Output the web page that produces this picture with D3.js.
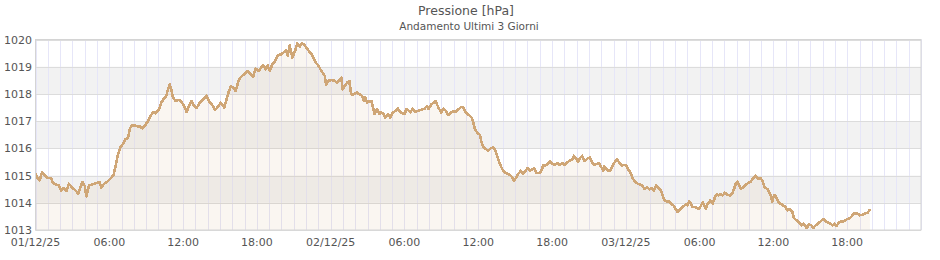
<!DOCTYPE html>
<html>
<head>
<meta charset="utf-8">
<script src="https://cdn.jsdelivr.net/npm/d3@7"></script>
<style>
	body { margin: 0; background: #fff; }
	text { font-family: "DejaVu Sans", sans-serif; fill: #555; }
</style>
</head>
<body>
<div id="chart"></div>
<script>
var title = "Pressione [hPa]"
var subtitle = "Andamento Ultimi 3 Giorni"
var start = Date.UTC(2025, 11, 1)
var end = Date.UTC(2025, 11, 4)
var yTicks = [1013, 1014, 1015, 1016, 1017, 1018, 1019, 1020]
var greyBands = [[1014, 1015], [1016, 1017], [1018, 1019]]

// [hours since 01/12/25 00:00, hPa]
var day1 = [
	[0,1015.09],[0.20,1014.88],[0.34,1014.82],[0.53,1015.12],[0.75,1015.00],[1.02,1014.91],[1.29,1014.90],[1.42,1014.73],
	[1.69,1014.67],[1.91,1014.63],[2.10,1014.45],[2.29,1014.54],[2.51,1014.43],[2.72,1014.70],[2.99,1014.55],[3.27,1014.45],
	[3.48,1014.33],[3.81,1014.76],[4.00,1014.63],[4.13,1014.24],[4.35,1014.63],[4.62,1014.68],[4.95,1014.73],[5.22,1014.76],
	[5.35,1014.56],[5.57,1014.70],[5.81,1014.76],[6.08,1014.88],[6.35,1015.02],[6.52,1015.37],[6.71,1015.79],[6.90,1016.04],
	[7.11,1016.16],[7.33,1016.34],[7.52,1016.37],[7.66,1016.71],[7.82,1016.85],[8.06,1016.85],[8.33,1016.80],[8.52,1016.80],
	[8.69,1016.73],[8.90,1016.83],[9.15,1017.01],[9.34,1017.17],[9.55,1017.34],[9.77,1017.29],[10.04,1017.44],[10.23,1017.68],
	[10.45,1017.83],[10.64,1017.93],[10.77,1018.17],[10.91,1018.35],[11.04,1018.17],[11.18,1017.87],[11.40,1017.74],
	[11.68,1017.78],[11.90,1017.68],[12.09,1017.56],[12.28,1017.34],[12.49,1017.56],[12.68,1017.74],[12.90,1017.56],[13.09,1017.48],
	[13.36,1017.68],[13.63,1017.80],[13.90,1017.93],[14.12,1017.71],[14.33,1017.62],[14.61,1017.41],[14.88,1017.56],[15.07,1017.68],
	[15.34,1017.50],[15.53,1017.80],[15.69,1018.05],[15.88,1018.29],[16.07,1018.23],[16.28,1018.11],[16.50,1018.48],[16.69,1018.62],
	[16.96,1018.72],[17.23,1018.84],[17.50,1018.72],[17.69,1018.63],[17.91,1018.93],[18.13,1018.84],[18.34,1018.96],[18.53,1019.05],
	[18.72,1018.90],[18.88,1019.05],[19.05,1018.84],[19.26,1019.09],[19.48,1019.21],[19.67,1019.41],[19.94,1019.45],[20.13,1019.51],
	[20.35,1019.61],[20.51,1019.41],[20.67,1019.78],[20.89,1019.33],[21.10,1019.57],[21.29,1019.85],[21.48,1019.73],[21.65,1019.85],
	[21.84,1019.82],[22.02,1019.70],[22.24,1019.57],[22.46,1019.45],[22.65,1019.27],[22.78,1019.15],[23.00,1019.05],[23.17,1018.90],
	[23.35,1018.78],[23.52,1018.66],[23.63,1018.35],[23.79,1018.48]
]
var day2 = [
	[24.06,1018.51],[24.33,1018.48],[24.52,1018.41],[24.71,1018.51],[24.87,1018.60],[24.98,1018.17],[25.14,1018.29],[25.33,1018.41],
	[25.52,1018.48],[25.66,1017.99],[25.87,1017.99],[26.14,1018.05],[26.33,1017.99],[26.55,1017.93],[26.69,1017.74],[26.82,1017.87],
	[26.96,1017.68],[27.15,1017.74],[27.31,1017.74],[27.44,1017.50],[27.58,1017.26],[27.77,1017.44],[27.96,1017.26],[28.12,1017.32],
	[28.31,1017.26],[28.45,1017.13],[28.66,1017.26],[28.85,1017.13],[29.04,1017.32],[29.31,1017.38],[29.47,1017.46],[29.66,1017.34],
	[29.85,1017.29],[30.02,1017.26],[30.15,1017.44],[30.29,1017.41],[30.48,1017.32],[30.67,1017.46],[30.88,1017.34],[31.10,1017.38],
	[31.29,1017.41],[31.48,1017.44],[31.64,1017.46],[31.83,1017.56],[31.97,1017.44],[32.18,1017.62],[32.37,1017.68],[32.51,1017.74],
	[32.64,1017.62],[32.83,1017.44],[32.99,1017.32],[33.18,1017.46],[33.37,1017.38],[33.54,1017.22],[33.73,1017.29],[34.00,1017.38],
	[34.19,1017.34],[34.40,1017.44],[34.62,1017.52],[34.79,1017.50],[34.97,1017.32],[35.25,1017.22],[35.46,1017.13],[35.60,1016.95],
	[35.73,1016.71],[35.95,1016.56],[36.14,1016.49],[36.27,1016.22],[36.41,1016.07],[36.60,1015.98],[36.82,1015.91],[37.01,1016.00],
	[37.22,1016.04],[37.41,1015.91],[37.57,1015.67],[37.76,1015.43],[37.95,1015.24],[38.17,1015.10],[38.39,1015.06],[38.58,1015.02],
	[38.77,1014.94],[38.90,1014.82],[39.04,1014.90],[39.25,1015.06],[39.47,1015.18],[39.66,1015.06],[39.85,1015.18],[40.01,1015.27],
	[40.20,1015.18],[40.39,1015.22],[40.55,1015.27],[40.74,1015.10],[40.93,1015.10],[41.09,1015.12],[41.28,1015.37],[41.47,1015.37],
	[41.64,1015.43],[41.83,1015.51],[42.02,1015.43],[42.23,1015.39],[42.42,1015.46],[42.64,1015.39],[42.83,1015.46],[43.04,1015.39],
	[43.26,1015.49],[43.45,1015.55],[43.64,1015.59],[43.78,1015.73],[43.94,1015.63],[44.13,1015.51],[44.32,1015.67],[44.45,1015.73],
	[44.61,1015.55],[44.72,1015.55],[44.89,1015.63],[45.07,1015.67],[45.26,1015.49],[45.43,1015.39],[45.62,1015.43],[45.81,1015.46],
	[46.02,1015.30],[46.16,1015.18],[46.26,1015.34],[46.40,1015.24],[46.58,1015.18],[46.75,1015.18],[46.94,1015.39],[47.13,1015.51],
	[47.29,1015.59],[47.48,1015.46],[47.67,1015.37],[47.83,1015.39]
]
var day3 = [
	[48.02,1015.37],[48.21,1015.22],[48.43,1015.06],[48.56,1014.90],[48.75,1014.78],[48.97,1014.70],[49.18,1014.67],[49.37,1014.61],
	[49.51,1014.51],[49.73,1014.57],[49.92,1014.49],[50.11,1014.54],[50.27,1014.45],[50.46,1014.63],[50.65,1014.54],[50.86,1014.45],
	[51.00,1014.27],[51.13,1014.09],[51.35,1014.05],[51.54,1014.05],[51.68,1013.96],[51.87,1013.90],[52.03,1013.78],[52.22,1013.66],
	[52.43,1013.78],[52.62,1013.84],[52.76,1013.90],[52.89,1013.96],[53.03,1013.90],[53.16,1014.05],[53.30,1013.96],[53.44,1013.84],
	[53.63,1013.84],[53.84,1013.80],[53.98,1013.78],[54.11,1013.90],[54.25,1014.02],[54.38,1013.90],[54.52,1013.78],[54.65,1013.96],
	[54.87,1014.09],[55.06,1013.96],[55.25,1014.21],[55.41,1014.33],[55.52,1014.27],[55.68,1014.33],[55.87,1014.27],[56.06,1014.37],
	[56.28,1014.29],[56.50,1014.27],[56.69,1014.37],[56.82,1014.54],[56.96,1014.73],[57.09,1014.78],[57.23,1014.63],[57.36,1014.51],
	[57.58,1014.57],[57.77,1014.67],[58.15,1014.78],[58.37,1014.90],[58.56,1015.00],[58.75,1014.88],[58.96,1014.90],[59.10,1014.82],
	[59.29,1014.57],[59.50,1014.51],[59.64,1014.41],[59.78,1014.27],[59.91,1014.05],[60.05,1014.29],[60.18,1014.24],[60.37,1014.05],
	[60.59,1013.96],[60.80,1013.90],[60.99,1013.84],[61.13,1013.72],[61.35,1013.78],[61.54,1013.66],[61.67,1013.44],[61.89,1013.35],
	[62.08,1013.29],[62.27,1013.17],[62.48,1013.23],[62.70,1013.07],[62.89,1013.20],[63.08,1013.17],[63.24,1013.07],[63.43,1013.17],
	[63.62,1013.23],[63.84,1013.32],[64.05,1013.41],[64.24,1013.32],[64.43,1013.27],[64.65,1013.23],[64.78,1013.17],[64.97,1013.23],
	[65.14,1013.15],[65.33,1013.29],[65.52,1013.32],[65.73,1013.32],[65.95,1013.39],[66.14,1013.41],[66.33,1013.48],[66.49,1013.60],
	[66.68,1013.60],[66.87,1013.60],[67.03,1013.54],[67.22,1013.56],[67.41,1013.60],[67.57,1013.63],[67.68,1013.63],[67.85,1013.78]
]

function drawChart() {
	var width = 940, height = 260
	var m = { left: 35.5, right: 19, top: 39.5, bottom: 30 }
	var svg = d3.select("#chart").append("svg").attr("width", width).attr("height", height)

	var data = day1.concat(day2, day3).map(function(d) {
		return { t: new Date(start + d[0] * 3600e3), v: d[1] }
	})

	var x = d3.scaleUtc().domain([start, end]).range([m.left, width - m.right])
	var y = d3.scaleLinear().domain([1013, 1020]).range([height - m.bottom, m.top])

	svg.append("text").attr("x", 466).attr("y", 15).attr("text-anchor", "middle")
		.style("font-size", "12.5px").text(title)
	svg.append("text").attr("x", 469).attr("y", 30).attr("text-anchor", "middle")
		.style("font-size", "10.5px").text(subtitle)

	svg.selectAll("rect.band").data(greyBands).enter().append("rect").attr("class", "band")
		.attr("x", x.range()[0]).attr("width", x.range()[1] - x.range()[0])
		.attr("y", function(d) { return y(d[1]) }).attr("height", function(d) { return y(d[0]) - y(d[1]) })
		.attr("fill", "#f2f2f2")

	// hourly vertical grid
	svg.append("g").selectAll("line").data(x.ticks(d3.utcHour.every(1))).enter().append("line")
		.attr("x1", function(d) { return Math.round(x(d)) + 0.5 }).attr("x2", function(d) { return Math.round(x(d)) + 0.5 })
		.attr("y1", y(1020)).attr("y2", y(1013)).attr("stroke", "#e6e6f8").attr("stroke-width", 1)

	svg.append("g").selectAll("line").data(yTicks).enter().append("line")
		.attr("x1", x.range()[0]).attr("x2", x.range()[1])
		.attr("y1", function(d) { return Math.round(y(d)) + 0.5 }).attr("y2", function(d) { return Math.round(y(d)) + 0.5 })
		.attr("stroke", "#dcdcdc")

	svg.append("path").datum(data)
		.attr("d", d3.area().x(function(d) { return x(d.t) }).y0(y(1013)).y1(function(d) { return y(d.v) }))
		.attr("fill", "#cfa676").attr("fill-opacity", 0.1)

	svg.append("path").datum(data)
		.attr("d", d3.line().x(function(d) { return x(d.t) }).y(function(d) { return y(d.v) }))
		.attr("fill", "none").attr("stroke", "#cfa676").attr("stroke-width", 2.6)
		.attr("stroke-linejoin", "round").attr("shape-rendering", "crispEdges")

	svg.append("rect").attr("x", m.left).attr("y", m.top)
		.attr("width", x.range()[1] - x.range()[0]).attr("height", y(1013) - y(1020))
		.attr("fill", "none").attr("stroke", "#d4d4d4")

	svg.append("g").selectAll("text").data(yTicks).enter().append("text")
		.attr("x", 32).attr("y", function(d) { return y(d) + 4 }).attr("text-anchor", "end")
		.style("font-size", "11px").text(function(d) { return d })

	var fmtDay = d3.utcFormat("%d/%m/%y"), fmtHour = d3.utcFormat("%H:%M")
	var xTicks = x.ticks(d3.utcHour.every(6)).filter(function(d) { return +d < end })
	svg.append("g").selectAll("text").data(xTicks).enter().append("text")
		.attr("x", function(d) { return x(d) }).attr("y", height - 14).attr("text-anchor", "middle")
		.style("font-size", "11px")
		.text(function(d) { return d.getUTCHours() == 0 ? fmtDay(d) : fmtHour(d) })
}

drawChart()
</script>
</body>
</html>
